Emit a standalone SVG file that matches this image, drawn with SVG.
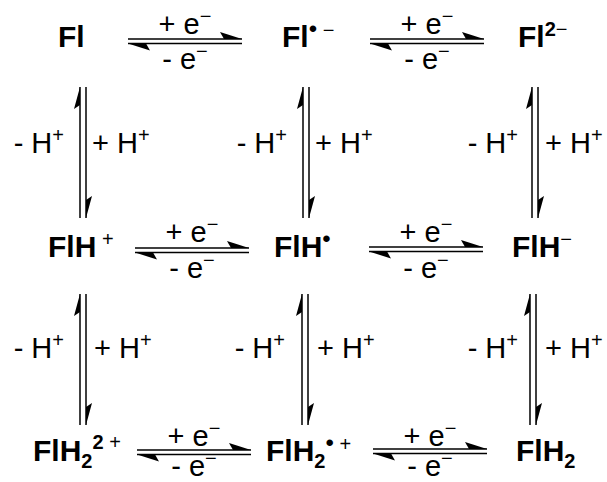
<svg xmlns="http://www.w3.org/2000/svg" width="607" height="482" viewBox="0 0 607 482">
<style>
.sp{font-family:"Liberation Sans",Arial,sans-serif;font-weight:bold;font-size:30px;fill:#000}
.lb{font-family:"Liberation Sans",Arial,sans-serif;font-size:29px;fill:#000}
.sm{font-size:20px;font-weight:normal}
.smb{font-size:20px;font-weight:bold}
.bu{font-size:24px;font-weight:normal}
.ln{stroke:#000;stroke-width:1.5;fill:none}
.hd{fill:#000;stroke:none}
</style>
<defs>
<g id="harr">
<line class="ln" x1="0" y1="0" x2="114" y2="0"/>
<polygon class="hd" points="114,0 92,-7 96,0"/>
<line class="ln" x1="0" y1="4.5" x2="114" y2="4.5"/>
<polygon class="hd" points="0,4.5 22,11.5 18,4.5"/>
</g>
<g id="varr">
<line class="ln" x1="0" y1="0" x2="0" y2="131"/>
<polygon class="hd" points="0,0 -6,22 0,18"/>
<line class="ln" x1="6" y1="0" x2="6" y2="131"/>
<polygon class="hd" points="6,131 12,109 6,113"/>
</g>
</defs>
<g id="species">
<g id="Fl"><text class="sp" x="58" y="47">Fl</text></g>
<g id="Fl_rad"><text class="sp" x="282" y="47">Fl<tspan class="bu" dy="-10">•</tspan><tspan class="sm"> −</tspan></text></g>
<g id="Fl2m"><text class="sp" x="518" y="47">Fl<tspan class="smb" dy="-11">2</tspan><tspan class="sm">−</tspan></text></g>
<g id="FlHp"><text class="sp" x="48" y="257">FlH<tspan class="sm" dy="-11"> +</tspan></text></g>
<g id="FlH_rad"><text class="sp" x="274" y="257">FlH<tspan class="bu" dy="-10">•</tspan></text></g>
<g id="FlHm"><text class="sp" x="512" y="257">FlH<tspan class="sm" dy="-11">−</tspan></text></g>
<g id="FlH2_2p"><text class="sp" x="33" y="461">FlH<tspan class="smb" dy="7">2</tspan><tspan class="smb" dy="-19">2</tspan><tspan class="sm"> +</tspan></text></g>
<g id="FlH2_radp"><text class="sp" x="266" y="461">FlH<tspan class="smb" dy="7">2</tspan><tspan class="bu" dy="-17">•</tspan><tspan class="sm"> +</tspan></text></g>
<g id="FlH2"><text class="sp" x="516" y="461">FlH<tspan class="smb" dy="7">2</tspan></text></g>
</g>
<g id="connectors">
<use href="#harr" x="128" y="39"/>
<use href="#harr" x="370" y="39"/>
<use href="#harr" x="135" y="248"/>
<use href="#harr" x="369" y="247"/>
<use href="#harr" x="137" y="450"/>
<use href="#harr" x="373" y="449"/>
<use href="#varr" x="80" y="87"/>
<use href="#varr" x="303" y="87"/>
<use href="#varr" x="532" y="87"/>
<use href="#varr" x="80" y="294"/>
<use href="#varr" x="302" y="294"/>
<use href="#varr" x="530" y="294"/>
</g>
<g id="labels">
<text class="lb" x="185" y="34" text-anchor="middle">+ e<tspan class="sm" dy="-11">−</tspan></text>
<text class="lb" x="185" y="69" text-anchor="middle">- e<tspan class="sm" dy="-11">−</tspan></text>
<text class="lb" x="427" y="34" text-anchor="middle">+ e<tspan class="sm" dy="-11">−</tspan></text>
<text class="lb" x="427" y="69" text-anchor="middle">- e<tspan class="sm" dy="-11">−</tspan></text>
<text class="lb" x="192" y="242" text-anchor="middle">+ e<tspan class="sm" dy="-11">−</tspan></text>
<text class="lb" x="192" y="278" text-anchor="middle">- e<tspan class="sm" dy="-11">−</tspan></text>
<text class="lb" x="426" y="242" text-anchor="middle">+ e<tspan class="sm" dy="-11">−</tspan></text>
<text class="lb" x="426" y="278" text-anchor="middle">- e<tspan class="sm" dy="-11">−</tspan></text>
<text class="lb" x="194" y="446" text-anchor="middle">+ e<tspan class="sm" dy="-11">−</tspan></text>
<text class="lb" x="194" y="476" text-anchor="middle">- e<tspan class="sm" dy="-11">−</tspan></text>
<text class="lb" x="430" y="446" text-anchor="middle">+ e<tspan class="sm" dy="-11">−</tspan></text>
<text class="lb" x="430" y="476" text-anchor="middle">- e<tspan class="sm" dy="-11">−</tspan></text>
<text class="lb" x="64" y="153" text-anchor="end">- H<tspan class="sm" dy="-11">+</tspan></text>
<text class="lb" x="92" y="153">+ H<tspan class="sm" dy="-11">+</tspan></text>
<text class="lb" x="287" y="153" text-anchor="end">- H<tspan class="sm" dy="-11">+</tspan></text>
<text class="lb" x="315" y="153">+ H<tspan class="sm" dy="-11">+</tspan></text>
<text class="lb" x="518" y="153" text-anchor="end">- H<tspan class="sm" dy="-11">+</tspan></text>
<text class="lb" x="545" y="153">+ H<tspan class="sm" dy="-11">+</tspan></text>
<text class="lb" x="64" y="358" text-anchor="end">- H<tspan class="sm" dy="-11">+</tspan></text>
<text class="lb" x="94" y="358">+ H<tspan class="sm" dy="-11">+</tspan></text>
<text class="lb" x="285" y="358" text-anchor="end">- H<tspan class="sm" dy="-11">+</tspan></text>
<text class="lb" x="317" y="358">+ H<tspan class="sm" dy="-11">+</tspan></text>
<text class="lb" x="518" y="358" text-anchor="end">- H<tspan class="sm" dy="-11">+</tspan></text>
<text class="lb" x="545" y="358">+ H<tspan class="sm" dy="-11">+</tspan></text>
</g>
</svg>
